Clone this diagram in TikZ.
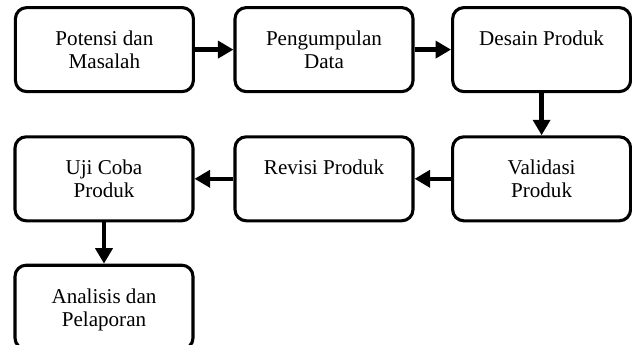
\documentclass[tikz,border=0pt]{standalone}
\usepackage{fontspec}
\setmainfont{Liberation Serif}
\usetikzlibrary{arrows.meta}
\newcommand{\stagetext}[1]{\parbox[c][1.74cm][t]{4.0cm}{\centering\rule{0pt}{0.77cm}#1}}

\begin{document}
\begin{tikzpicture}[
  stage/.style={draw, line width=2.2pt, rounded corners=8pt, minimum width=4.45cm, minimum height=2.1cm, inner sep=0.18cm, font=\fontsize{15}{16.4}\selectfont},
  flow/.style={-{Triangle[length=11pt, width=12pt]}, line width=3.2pt}
]
\useasboundingbox (0,0) rectangle (15.8,-8.6);

% Stage boxes
\node[stage] (potensi) at (2.61, -1.24) {\stagetext{Potensi dan\\Masalah}};
\node[stage] (pengumpulan) at (8.1, -1.24) {\stagetext{Pengumpulan\\Data}};
\node[stage] (desain) at (13.54, -1.24) {\stagetext{Desain Produk}};
\node[stage] (validasi) at (13.54, -4.47) {\stagetext{Validasi\\Produk}};
\node[stage] (revisi) at (8.1, -4.47) {\stagetext{Revisi Produk}};
\node[stage] (ujicoba) at (2.6, -4.47) {\stagetext{Uji Coba\\Produk}};
\node[stage] (analisis) at (2.6, -7.68) {\stagetext{Analisis dan\\Pelaporan}};

% Arrows
\draw[flow] (potensi) -- (pengumpulan);
\draw[flow] (pengumpulan) -- (desain);
\draw[flow] (desain) -- (validasi);
\draw[flow] (validasi) -- (revisi);
\draw[flow] (revisi) -- (ujicoba);
\draw[flow] (ujicoba) -- (analisis);
\end{tikzpicture}
\end{document}
